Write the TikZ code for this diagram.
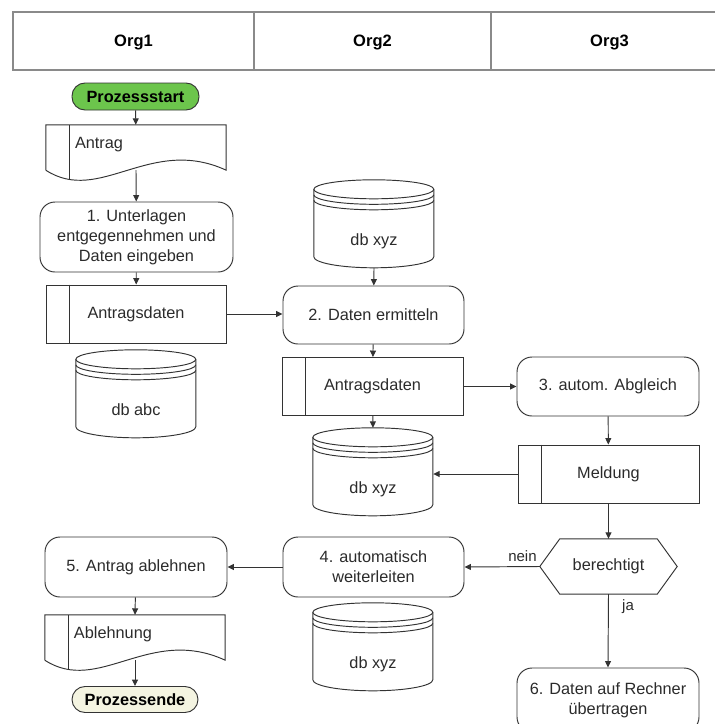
\documentclass[tikz,border=0pt]{standalone}
\usepackage{fontspec}
\setmainfont{Liberation Sans}
\usetikzlibrary{arrows.meta,calc}

\definecolor{ink}{HTML}{333333}
\definecolor{txt}{HTML}{2B2B2B}
\definecolor{hdr}{HTML}{8A8A8A}
\definecolor{startgreen}{HTML}{6CC54C}
\definecolor{endcream}{HTML}{F4F4E1}

\tikzset{
  x=1pt, y=-1pt,
  every node/.style={font=\fontsize{16.3}{20}\selectfont, text=txt},
  shapeline/.style={draw=ink, line width=0.95pt},
  process/.style={shapeline, rounded corners=15pt, align=center, inner sep=0pt},
  terminal/.style={shapeline, rounded corners=13pt, inner sep=0pt,
    font=\fontsize{16.3}{20}\selectfont\bfseries, text=black},
  databox/.style={shapeline, inner sep=0pt, minimum width=181, minimum height=58},
  docnode/.style={inner sep=0pt, minimum width=180, minimum height=45,
    text width=122, align=left, text height=11.5, text depth=10},
  dbnode/.style={inner sep=0pt, minimum width=120, minimum height=88,
    text height=42, text depth=0},
  hexnode/.style={inner sep=0pt, minimum width=137, minimum height=55},
  flow/.style={draw=ink, line width=0.95pt, -{Triangle[length=6.5pt,width=6pt]}},
  lbl/.style={font=\fontsize{15}{18}\selectfont},
  orglabel/.style={font=\fontsize{16.5}{20}\selectfont\bfseries, text=black}
}

% strip on the left side of a data box
\newcommand{\datastrip}[1]{%
  \draw[shapeline] ($(#1.north west)+(24,0)$) -- ($(#1.south west)+(24,0)$);}

% document symbol with wavy lower edge
\newcommand{\docshape}[1]{%
  \draw[shapeline] (#1.south west) -- (#1.north west) -- (#1.north east) -- (#1.south east)
    .. controls ($(#1.south east)+(-76,-35)$) and ($(#1.south west)+(54,35)$) .. (#1.south west);
  \draw[shapeline] ($(#1.north west)+(24,0)$) -- ($(#1.south west)+(24,9.5)$);}

% database drum with two rings under the lid
\newcommand{\dbshape}[1]{%
  \begin{scope}[shift={(#1.north west)}]
    \draw[shapeline] (60,9.5) ellipse [x radius=60pt, y radius=9.5pt];
    \draw[shapeline] (0,15) .. controls (0,20.2) and (26.9,24.5) .. (60,24.5)
      .. controls (93.1,24.5) and (120,20.2) .. (120,15);
    \draw[shapeline] (0,20.5) .. controls (0,25.7) and (26.9,30) .. (60,30)
      .. controls (93.1,30) and (120,25.7) .. (120,20.5);
    \draw[shapeline] (0,9.5) -- (0,77) .. controls (0,83) and (26.9,88) .. (60,88)
      .. controls (93.1,88) and (120,83) .. (120,77) -- (120,9.5);
  \end{scope}}

% decision hexagon
\newcommand{\hexshape}[1]{%
  \draw[shapeline] (#1.west) -- ($(#1.north west)+(20,0)$) -- ($(#1.north east)+(-20,0)$)
    -- (#1.east) -- ($(#1.south east)+(-20,0)$) -- ($(#1.south west)+(20,0)$) -- cycle;}

\begin{document}
\begin{tikzpicture}
  \useasboundingbox (0,0) rectangle (715,724);

  % organisation header
  \draw[draw=hdr, line width=1.1pt] (13,12) rectangle (730,70);
  \draw[draw=hdr, line width=1.1pt] (254,12) -- (254,70);
  \draw[draw=hdr, line width=1.1pt] (491,12) -- (491,70);
  \node[orglabel] (org1) at (133.5,42) {Org1};
  \node[orglabel] (org2) at (372.5,42) {Org2};
  \node[orglabel] (org3) at (609.5,42) {Org3};

  % Org1 column
  \node[terminal, fill=startgreen, minimum width=127, minimum height=27] (start) at (135.5,96.5) {Prozessstart};
  \node[docnode] (antrag) at (136,147.5) {Antrag};
  \docshape{antrag}
  \node[process, minimum width=193, minimum height=70] (p1) at (136.5,237)
    {1. Unterlagen\\entgegennehmen und\\Daten eingeben};
  \node[databox, minimum width=180] (ad1) at (136,314) {Antragsdaten};
  \datastrip{ad1}
  \node[dbnode] (dbabc) at (136,394) {db abc};
  \dbshape{dbabc}

  % Org2 column
  \node[dbnode] (dbtop) at (374,224) {db xyz};
  \dbshape{dbtop}
  \node[process, minimum width=181, minimum height=58] (p2) at (373.5,315) {2. Daten ermitteln};
  \node[databox] (ad2) at (372.5,386.5) {Antragsdaten};
  \datastrip{ad2}
  \node[dbnode] (dbmid) at (373,472) {db xyz};
  \dbshape{dbmid}
  \node[process, minimum width=181, minimum height=60] (p4) at (373.5,567) {4. automatisch\\weiterleiten};
  \node[dbnode] (dbbot) at (373,647) {db xyz};
  \dbshape{dbbot}

  % Org3 column
  \node[process, minimum width=182, minimum height=59] (p3) at (608,386.5) {3. autom. Abgleich};
  \node[databox] (meldung) at (608.5,474) {Meldung};
  \datastrip{meldung}
  \node[hexnode] (hex) at (608.5,566.5) {berechtigt};
  \hexshape{hex}
  \node[process, minimum width=182, minimum height=64] (p6) at (608,700)
    {6. Daten auf Rechner\\übertragen};

  % rejection path
  \node[process, minimum width=182, minimum height=60] (p5) at (136,567) {5. Antrag ablehnen};
  \node[docnode] (abl) at (135,637.5) {Ablehnung};
  \docshape{abl}
  \node[terminal, fill=endcream, minimum width=126, minimum height=26] (end) at (135,699.5) {Prozessende};

  % connectors
  \draw[flow] (start) -- (antrag);
  \draw[flow] (antrag.south) -- (p1);
  \draw[flow] (p1) -- (ad1);
  \draw[flow] (ad1.east) -- (ad1.east -| p2.west);
  \draw[flow] (dbtop.south) -- (p2);
  \draw[flow] (p2) -- (ad2);
  \draw[flow] (ad2.east) -- (ad2.east -| p3.west);
  \draw[flow] (ad2) -- (dbmid.north);
  \draw[flow] (p3) -- (meldung);
  \draw[flow] (meldung.west) -- (meldung.west -| dbmid.east);
  \draw[flow] (meldung) -- (hex.north);
  \draw[flow] (hex.west) -- node[lbl, above, pos=0.23, yshift=1pt] (nein) {nein} (p4.east);
  \draw[flow] (hex.south) -- node[lbl, right, pos=0.17, xshift=10pt] (ja) {ja} (p6.north);
  \draw[flow] (p4) -- (p5);
  \draw[flow] (p5) -- (abl.north);
  \draw[flow] (abl.south) -- (end);
\end{tikzpicture}
\end{document}
